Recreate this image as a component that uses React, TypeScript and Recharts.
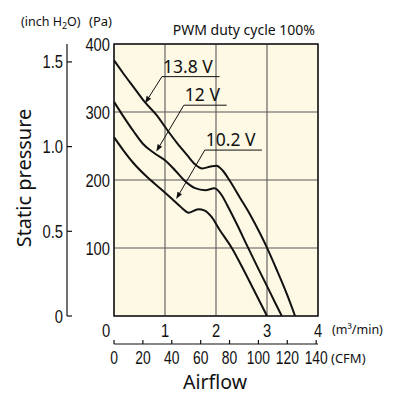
import React from 'react';
import { LineChart, Line, XAxis, YAxis, CartesianGrid, ReferenceArea, ReferenceLine } from 'recharts';

// ---- axis ticks ----
const flowTicks = [0, 1, 2, 3, 4];
const paTicks = [100, 200, 300, 400];
const inchTicks = [0, 0.5, 1.0, 1.5];
const cfmTicks = [0, 20, 40, 60, 80, 100, 120, 140];

// ---- series: airflow (m3/min) vs static pressure (Pa) ----
const flow138 = [0, 0.18, 0.38, 0.61, 0.84, 1.03, 1.23, 1.43, 1.59, 1.73, 1.9, 2.01, 2.13, 2.27, 2.47, 2.67, 2.86, 2.99, 3.19, 3.39, 3.55];
const pa138 = [376, 357, 337, 314, 295, 275, 255, 237, 223, 217, 220, 221, 214, 199, 174, 149, 122, 102, 68, 32, 0];

const flow12 = [0, 0.18, 0.38, 0.57, 0.8, 1.0, 1.2, 1.37, 1.59, 1.79, 1.97, 2.1, 2.22, 2.41, 2.6, 2.8, 3.0, 3.15, 3.29];
const pa12 = [315, 294, 272, 253, 239, 229, 214, 200, 188, 185, 188, 179, 163, 135, 105, 74, 44, 21, 0];

const flow102 = [0, 0.18, 0.38, 0.64, 0.9, 1.14, 1.3, 1.47, 1.65, 1.78, 1.91, 2.06, 2.31, 2.54, 2.73, 3.0];
const pa102 = [263, 244, 225, 205, 188, 172, 161, 152, 157, 155, 146, 128, 100, 68, 40, 0];

// ---- annotations ----
const voltLabels = ['13.8 V', '12 V', '10.2 V'];
const tipFlow = [0.61, 0.83, 1.22];
const tipPa = [313, 242, 172];
const elbowFlow = [0.94, 1.37, 1.78];
const elbowPa = [352, 310, 244];
const endFlow = [2.07, 2.21, 2.9];

const PA_PER_INCH = 249.089;
const CFM_PER_M3 = 35.3147;
const PA_MAX = 400;
const FLOW_MAX = 4;

const toRows = (xs: number[], ys: number[]) => xs.map((x, i) => ({ flow: x, pa: ys[i] }));
const data138 = toRows(flow138, pa138);
const data12 = toRows(flow12, pa12);
const data102 = toRows(flow102, pa102);
const cfmRows = cfmTicks.map((c) => ({ cfm: c }));

const NUM_FONT = '"Liberation Sans", Arial, sans-serif';
const TXT_FONT = '"Noto Sans", "Open Sans", sans-serif';
const INK = '#111';

const NumText = ({ x, y, anchor, sx = 0.82, children }: any) => (
  <text
    transform={`translate(${x},${y}) scale(${sx},1)`}
    textAnchor={anchor}
    fontFamily={NUM_FONT}
    fontSize={18}
    fill={INK}
  >
    {children}
  </text>
);

const PaTick = ({ x, y, payload }: any) => (
  <NumText x={x} y={y + 6.5} anchor="end">{payload.value}</NumText>
);

const InchTick = ({ x, y, payload }: any) => {
  const v = payload.value;
  return (
    <g>
      <line x1={x} x2={x + 5} y1={y} y2={y} stroke={INK} strokeWidth={1.2} />
      <NumText x={x - 4} y={y + 6.5} anchor="end">{v === 0 ? '0' : v.toFixed(1)}</NumText>
    </g>
  );
};

const M3Tick = ({ x, y, payload }: any) => (
  <NumText x={x + (payload.value === 0 ? -8 : 0)} y={y + 20.5} anchor="middle">{payload.value}</NumText>
);

const CfmTick = ({ x, y, payload }: any) => (
  <g>
    <line x1={x} x2={x} y1={y} y2={y - 4} stroke={INK} strokeWidth={1.2} />
    <NumText x={x} y={y + 20} anchor="middle" sx={0.77}>{payload.value}</NumText>
  </g>
);

const LeaderShape = (props: any) => {
  const { x1, y1, x2, y2 } = props;
  const dx = x2 - x1;
  const dy = y2 - y1;
  const len = Math.sqrt(dx * dx + dy * dy) || 1;
  const ux = dx / len;
  const uy = dy / len;
  const L = 7;
  const W = 2.6;
  const bx = x2 - ux * L;
  const by = y2 - uy * L;
  const pts = `${x2},${y2} ${bx - uy * W},${by + ux * W} ${bx + uy * W},${by - ux * W}`;
  return (
    <g>
      <line x1={x1} y1={y1} x2={bx} y2={by} stroke={INK} strokeWidth={1} />
      <polygon points={pts} fill={INK} />
    </g>
  );
};

const makeUnderline = (text: string) => (props: any) => {
  const { x1, y1, x2, y2 } = props;
  return (
    <g>
      <line x1={x1} y1={y1} x2={x2} y2={y2} stroke={INK} strokeWidth={1} />
      <text x={x1 + 1} y={y1 - 4} fontFamily={TXT_FONT} fontSize={17.5} fill={INK}>{text}</text>
    </g>
  );
};

export default function App() {
  return (
    <div style={{ position: 'absolute', left: 0, top: 0, background: '#fff' }}>
      <LineChart width={398} height={407} data={cfmRows} margin={{ top: 44, right: 80, bottom: 23, left: 20 }}>
        <CartesianGrid xAxisId="a_m3" yAxisId="a_pa" stroke="#585858" strokeWidth={1.1} fill="#fdf9e5" fillOpacity={1} />
        <XAxis
          xAxisId="b_cfm"
          dataKey="cfm"
          type="number"
          domain={[0, FLOW_MAX * CFM_PER_M3]}
          ticks={cfmTicks}
          interval={0}
          allowDataOverflow
          height={40}
          axisLine={{ stroke: INK, strokeWidth: 1.2 }}
          tickLine={false}
          tickSize={0}
          tickMargin={0}
          tick={<CfmTick />}
          label={(p: any) => {
            const vb = p.viewBox;
            return (
              <g>
                <text x={vb.x + vb.width + 13} y={vb.y + 19} fontFamily={TXT_FONT} fontSize={13} fill={INK}>(CFM)</text>
                <text x={vb.x + vb.width / 2 - 1} y={vb.y + 44.5} textAnchor="middle" fontFamily={TXT_FONT} fontSize={19.5} fill={INK}>Airflow</text>
              </g>
            );
          }}
        />
        <XAxis
          xAxisId="a_m3"
          dataKey="flow"
          type="number"
          domain={[0, FLOW_MAX]}
          ticks={flowTicks}
          interval={0}
          allowDataOverflow
          height={28}
          axisLine={false}
          tickLine={false}
          tickSize={0}
          tickMargin={0}
          tick={<M3Tick />}
          label={(p: any) => {
            const vb = p.viewBox;
            return (
              <text x={vb.x + vb.width + 14} y={vb.y + 18} fontFamily={TXT_FONT} fontSize={12.5} fill={INK}>(m³/min)</text>
            );
          }}
        />
        <YAxis
          yAxisId="b_inch"
          type="number"
          domain={[0, PA_MAX / PA_PER_INCH]}
          ticks={inchTicks}
          interval={0}
          allowDataOverflow
          width={47}
          axisLine={{ stroke: INK, strokeWidth: 1.2 }}
          tickLine={false}
          tickSize={0}
          tickMargin={0}
          tick={<InchTick />}
          label={(p: any) => {
            const vb = p.viewBox;
            const cy = vb.y + vb.height / 2 - 2;
            return (
              <g>
                <text x={vb.x + 1} y={vb.y - 18} fontFamily={TXT_FONT} fontSize={12.5} fill={INK}>
                  (inch H<tspan dy={3} fontSize={9}>2</tspan><tspan dy={-3}>O)</tspan>
                </text>
                <text
                  transform={`translate(${vb.x + 11},${cy}) rotate(-90)`}
                  textAnchor="middle"
                  fontFamily={TXT_FONT}
                  fontSize={20}
                  fill={INK}
                >
                  Static pressure
                </text>
              </g>
            );
          }}
        />
        <YAxis
          yAxisId="a_pa"
          type="number"
          domain={[0, PA_MAX]}
          ticks={paTicks}
          interval={0}
          allowDataOverflow
          width={47}
          axisLine={false}
          tickLine={false}
          tickSize={0}
          tickMargin={4}
          tick={<PaTick />}
          label={(p: any) => {
            const vb = p.viewBox;
            return (
              <text x={vb.x + 22} y={vb.y - 18} fontFamily={TXT_FONT} fontSize={13} fill={INK}>(Pa)</text>
            );
          }}
        />
        <ReferenceArea
          xAxisId="a_m3"
          yAxisId="a_pa"
          x1={0}
          x2={FLOW_MAX}
          y1={0}
          y2={PA_MAX}
          fill="none"
          stroke="#1a1a1a"
          strokeWidth={1.5}
          ifOverflow="visible"
          label={(p: any) => {
            const vb = p.viewBox;
            return (
              <text x={vb.x + vb.width - 3} y={vb.y - 9} textAnchor="end" fontFamily={TXT_FONT} fontSize={14} fill={INK}>PWM duty cycle 100%</text>
            );
          }}
        />
        <Line xAxisId="a_m3" yAxisId="a_pa" data={data138} dataKey="pa" type="monotone" stroke={INK} strokeWidth={2} dot={false} isAnimationActive={false} />
        <Line xAxisId="a_m3" yAxisId="a_pa" data={data12} dataKey="pa" type="monotone" stroke={INK} strokeWidth={2} dot={false} isAnimationActive={false} />
        <Line xAxisId="a_m3" yAxisId="a_pa" data={data102} dataKey="pa" type="monotone" stroke={INK} strokeWidth={2} dot={false} isAnimationActive={false} />
        {voltLabels.map((t, i) => (
          <ReferenceLine
            key={'lead' + i}
            xAxisId="a_m3"
            yAxisId="a_pa"
            ifOverflow="visible"
            segment={[{ x: elbowFlow[i], y: elbowPa[i] }, { x: tipFlow[i], y: tipPa[i] }]}
            shape={LeaderShape}
          />
        ))}
        {voltLabels.map((t, i) => (
          <ReferenceLine
            key={'under' + i}
            xAxisId="a_m3"
            yAxisId="a_pa"
            ifOverflow="visible"
            segment={[{ x: elbowFlow[i], y: elbowPa[i] }, { x: endFlow[i], y: elbowPa[i] }]}
            shape={makeUnderline(t)}
          />
        ))}
      </LineChart>
    </div>
  );
}
